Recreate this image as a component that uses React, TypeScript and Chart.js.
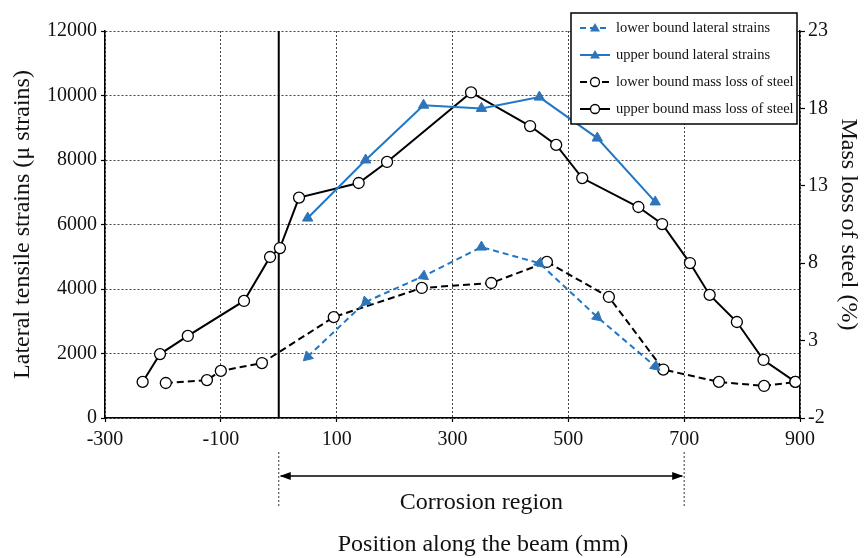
import React, { useEffect, useRef } from 'react';
import { Chart, registerables } from 'chart.js';

Chart.register(...registerables);

// Strain measurement positions (mm) and values (μ strains)
const strainPositions = [50, 150, 250, 350, 450, 550, 650];
const lowerStrains = [1900, 3600, 4400, 5300, 4800, 3130, 1600];
const upperStrains = [6200, 8000, 9700, 9600, 9950, 8680, 6700];

// Mass loss of steel (%) positions (mm) and values
const lowerMassPositions = [-195, -124, -100, -29, 95, 247, 367, 463, 570, 664, 760, 838, 892];
const lowerMassLoss = [0.26, 0.45, 1.04, 1.55, 4.52, 6.4, 6.72, 8.08, 5.82, 1.13, 0.33, 0.07, 0.33];
const upperMassPositions = [-235, -205, -157, -60, -15, 2, 35, 138, 187, 332, 434, 479, 524, 621, 662, 710, 744, 791, 837, 892];
const upperMassLoss = [0.33, 2.13, 3.3, 5.56, 8.4, 8.98, 12.24, 13.18, 14.54, 19.03, 16.86, 15.64, 13.5, 11.63, 10.53, 8.01, 5.95, 4.2, 1.75, 0.33];

// Axis ranges
const xRange = [-300, 900];
const xStep = 200;
const strainRange = [0, 12000];
const strainStep = 2000;
const massRange = [-2, 23];
const massStep = 5;

// Corrosion region (mm)
const corrosionRegion = [0, 700];

const SERIF = "'Liberation Serif', 'Times New Roman', serif";
const BLUE = '#1f77c6';
const BLUE_FILL = '#2f74b8';
const TEXT = '#111';

const toPoints = (xs: number[], ys: number[]) => xs.map((x, i) => ({ x, y: ys[i] }));
const plain = (v: any) => String(v);

// Arrow-like triangle orientation along the dashed lower-bound strain line
const arrowRotation = (c: any) => {
  const chart = c.chart;
  const xs = chart.scales.x;
  const ys = chart.scales.y;
  if (!xs || !ys) return 0;
  const i = c.dataIndex;
  const n = strainPositions.length;
  let peak = 0;
  lowerStrains.forEach((v, k) => { if (v > lowerStrains[peak]) peak = k; });
  if (i === peak) return 0;
  const px = (k: number) => xs.getPixelForValue(strainPositions[k]);
  const py = (k: number) => ys.getPixelForValue(lowerStrains[k]);
  let dx: number, dy: number;
  if (i < peak) {
    if (i === 0) { dx = px(0) - px(1); dy = py(0) - py(1); }
    else { dx = px(i - 1) - px(i); dy = py(i - 1) - py(i); }
  } else {
    if (i === n - 1) { dx = px(i) - px(i - 1); dy = py(i) - py(i - 1); }
    else { dx = px(i + 1) - px(i); dy = py(i + 1) - py(i); }
  }
  return (Math.atan2(dx, -dy) * 180) / Math.PI;
};

const extrasPlugin = {
  id: 'extras',
  beforeDatasetsDraw(chart: any) {
    const { ctx, chartArea, scales } = chart;
    const x0 = scales.x.getPixelForValue(corrosionRegion[0]);
    ctx.save();
    ctx.strokeStyle = '#000';
    ctx.lineWidth = 2;
    ctx.beginPath();
    ctx.moveTo(x0, chartArea.top);
    ctx.lineTo(x0, chartArea.bottom);
    ctx.stroke();
    ctx.restore();
  },
  afterDraw(chart: any) {
    const { ctx, chartArea, scales } = chart;
    const x0 = scales.x.getPixelForValue(corrosionRegion[0]);
    const x1 = scales.x.getPixelForValue(corrosionRegion[1]);
    const b = chartArea.bottom;
    ctx.save();
    // dotted guides
    ctx.strokeStyle = '#333';
    ctx.lineWidth = 1;
    ctx.setLineDash([2, 2]);
    [x0, x1].forEach((x) => {
      ctx.beginPath();
      ctx.moveTo(x, b + 34);
      ctx.lineTo(x, b + 90);
      ctx.stroke();
    });
    ctx.setLineDash([]);
    // arrow
    const ay = b + 58;
    ctx.strokeStyle = '#000';
    ctx.lineWidth = 1.5;
    ctx.beginPath();
    ctx.moveTo(x0 + 2, ay);
    ctx.lineTo(x1 - 2, ay);
    ctx.stroke();
    ctx.fillStyle = '#000';
    ctx.beginPath();
    ctx.moveTo(x0 + 1, ay);
    ctx.lineTo(x0 + 12, ay - 4);
    ctx.lineTo(x0 + 12, ay + 4);
    ctx.closePath();
    ctx.fill();
    ctx.beginPath();
    ctx.moveTo(x1 - 1, ay);
    ctx.lineTo(x1 - 12, ay - 4);
    ctx.lineTo(x1 - 12, ay + 4);
    ctx.closePath();
    ctx.fill();
    ctx.font = `24px ${SERIF}`;
    ctx.textAlign = 'center';
    ctx.textBaseline = 'middle';
    ctx.fillStyle = TEXT;
    ctx.fillText('Corrosion region', (x0 + x1) / 2, b + 85);
    ctx.fillText('Position along the beam (mm)', 483, b + 127);

    // legend
    const lw = 226, lh = 111;
    const lx = chartArea.right - 229;
    const ly = chartArea.top - 18;
    ctx.fillStyle = '#fff';
    ctx.fillRect(lx, ly, lw, lh);
    ctx.strokeStyle = '#000';
    ctx.lineWidth = 1.5;
    ctx.strokeRect(lx, ly, lw, lh);
    chart.data.datasets.forEach((ds: any, i: number) => {
      const y = ly + 15 + i * 27;
      ctx.strokeStyle = ds.borderColor;
      ctx.lineWidth = 2;
      ctx.setLineDash(ds.borderDash || []);
      ctx.beginPath();
      ctx.moveTo(lx + 9, y);
      ctx.lineTo(lx + 39, y);
      ctx.stroke();
      ctx.setLineDash([]);
      const mx = lx + 24;
      if (ds.pointStyle === 'triangle') {
        ctx.fillStyle = ds.pointBackgroundColor;
        ctx.beginPath();
        ctx.moveTo(mx, y - 5);
        ctx.lineTo(mx + 5, y + 3.5);
        ctx.lineTo(mx - 5, y + 3.5);
        ctx.closePath();
        ctx.fill();
      } else {
        ctx.fillStyle = '#fff';
        ctx.strokeStyle = '#000';
        ctx.lineWidth = 1.3;
        ctx.beginPath();
        ctx.arc(mx, y, 4.5, 0, Math.PI * 2);
        ctx.fill();
        ctx.stroke();
      }
      ctx.fillStyle = TEXT;
      ctx.font = `14.5px ${SERIF}`;
      ctx.textAlign = 'left';
      ctx.textBaseline = 'middle';
      ctx.fillText(ds.label, lx + 45, y);
    });
    ctx.restore();
  },
};

export default function App() {
  const canvasRef = useRef<HTMLCanvasElement | null>(null);

  useEffect(() => {
    document.body.style.margin = '0';
    const canvas = canvasRef.current;
    if (!canvas) return;
    const gridCommon = {
      color: '#444',
      lineWidth: 1,
      tickLength: 4,
      tickColor: '#000',
      tickWidth: 1.2,
    };
    const borderCommon = { display: true, color: '#000', width: 1.5, dash: [2, 2] };
    const tickFont = { family: SERIF, size: 20 };
    const chart = new Chart(canvas, {
      type: 'line',
      data: {
        datasets: [
          {
            label: 'lower bound lateral strains',
            data: toPoints(strainPositions, lowerStrains),
            borderColor: BLUE,
            borderWidth: 2,
            borderDash: [6, 4],
            pointStyle: 'triangle',
            pointRadius: 6,
            pointRotation: arrowRotation,
            pointBackgroundColor: BLUE_FILL,
            pointBorderColor: BLUE_FILL,
            pointBorderWidth: 1,
            yAxisID: 'y',
          },
          {
            label: 'upper bound lateral strains',
            data: toPoints(strainPositions, upperStrains),
            borderColor: BLUE,
            borderWidth: 2,
            pointStyle: 'triangle',
            pointRadius: 6,
            pointBackgroundColor: BLUE_FILL,
            pointBorderColor: BLUE_FILL,
            pointBorderWidth: 1,
            yAxisID: 'y',
          },
          {
            label: 'lower bound mass loss of steel',
            data: toPoints(lowerMassPositions, lowerMassLoss),
            borderColor: '#000',
            borderWidth: 2,
            borderDash: [7, 4],
            pointStyle: 'circle',
            pointRadius: 5.5,
            pointBackgroundColor: '#fff',
            pointBorderColor: '#000',
            pointBorderWidth: 1.3,
            yAxisID: 'y1',
          },
          {
            label: 'upper bound mass loss of steel',
            data: toPoints(upperMassPositions, upperMassLoss),
            borderColor: '#000',
            borderWidth: 2,
            pointStyle: 'circle',
            pointRadius: 5.5,
            pointBackgroundColor: '#fff',
            pointBorderColor: '#000',
            pointBorderWidth: 1.3,
            yAxisID: 'y1',
          },
        ],
      },
      options: {
        responsive: false,
        animation: false,
        layout: { padding: { top: 31, left: 0, right: 0, bottom: 0 } },
        plugins: { legend: { display: false }, tooltip: { enabled: false } },
        scales: {
          x: {
            type: 'linear',
            min: xRange[0],
            max: xRange[1],
            ticks: { stepSize: xStep, color: TEXT, font: tickFont, padding: 6, maxRotation: 0, callback: plain },
            grid: gridCommon,
            border: borderCommon,
            afterFit: (s: any) => { s.height = 140; },
          },
          y: {
            type: 'linear',
            position: 'left',
            min: strainRange[0],
            max: strainRange[1],
            ticks: { stepSize: strainStep, color: TEXT, font: tickFont, padding: 4, callback: plain },
            grid: gridCommon,
            border: borderCommon,
            title: {
              display: true,
              text: 'Lateral tensile strains (μ strains)',
              color: TEXT,
              font: { family: SERIF, size: 24 },
              padding: { top: 8, bottom: 0 },
            },
            afterFit: (s: any) => { s.width = 105; },
          },
          y1: {
            type: 'linear',
            position: 'right',
            min: massRange[0],
            max: massRange[1],
            ticks: { stepSize: massStep, color: TEXT, font: tickFont, padding: 3, callback: plain },
            grid: { drawOnChartArea: false, tickLength: 5, tickColor: '#000', tickWidth: 1.2 },
            border: { display: true, color: '#000', width: 1.5 },
            title: {
              display: true,
              text: 'Mass loss of steel (%)',
              color: TEXT,
              font: { family: SERIF, size: 24 },
              padding: { top: 3, bottom: 0 },
            },
            afterFit: (s: any) => { s.width = 66; },
          },
        },
      },
      plugins: [extrasPlugin],
    } as any);
    return () => chart.destroy();
  }, []);

  return (
    <div style={{ width: 866, height: 558 }}>
      <canvas ref={canvasRef} width={866} height={558} />
    </div>
  );
}
